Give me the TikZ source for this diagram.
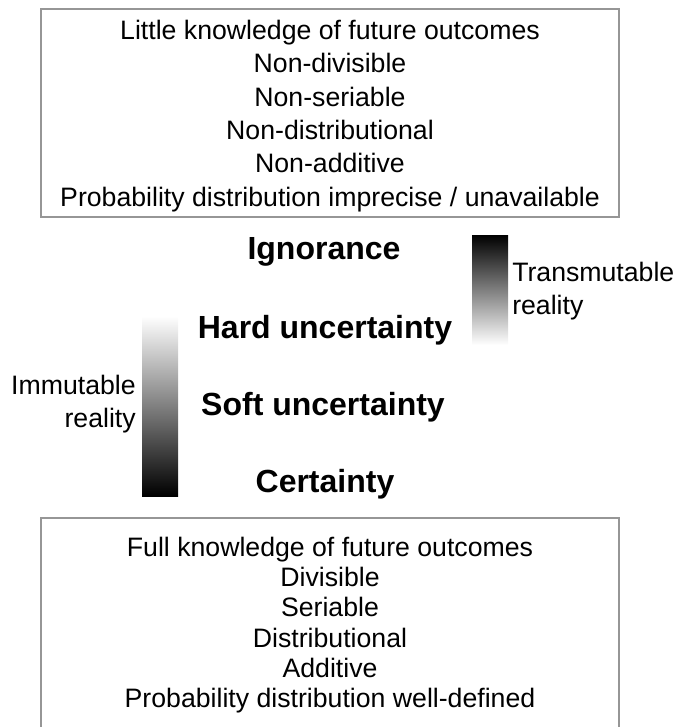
\documentclass[tikz,border=0pt]{standalone}
\usepackage{fontspec}
\setmainfont{Liberation Sans}
\definecolor{boxgray}{RGB}{150,150,150}
\begin{document}
\begin{tikzpicture}[x=0.75pt,y=-0.75pt,
  infobox/.style={draw=boxgray, line width=0.8pt, inner sep=0pt, minimum width=433.5pt},
  boxtext/.style={align=center, inner sep=0pt, font=\fontsize{20}{25}\selectfont},
  boxtextb/.style={align=center, inner sep=0pt, font=\fontsize{20}{22.7}\selectfont},
  level/.style={inner sep=0pt, font=\fontsize{24}{28}\selectfont\bfseries},
  side/.style={inner sep=0pt, font=\fontsize{20}{24.5}\selectfont},
  bar/.style={inner sep=0pt, minimum width=27pt}]
\useasboundingbox (0,0) rectangle (676,727);
% top box
\node[infobox, minimum height=156pt] (topbox) at (330,113) {};
\node[boxtext] (toptext) at (330,116) {Little knowledge of future outcomes\\Non-divisible\\Non-seriable\\Non-distributional\\Non-additive\\Probability distribution imprecise / unavailable};
% levels
\node[level] (ign) at (324,252) {Ignorance};
\node[level] (hard) at (325,330) {Hard uncertainty};
\node[level] (soft) at (323,407) {Soft uncertainty};
\node[level] (cert) at (325,484) {Certainty};
% bars
\node[bar, minimum height=135pt, top color=white, bottom color=black] (lbar) at (160,406) {};
\node[bar, minimum height=82.5pt, top color=black, bottom color=white] (rbar) at (490,290) {};
\node[side, anchor=east, align=right] (imm) at (136,404) {Immutable\\reality};
\node[side, anchor=west, align=left] (trans) at (512,291) {Transmutable\\reality};
% bottom box
\node[infobox, minimum height=183pt] (botbox) at (330,640) {};
\node[boxtextb] (bottext) at (330,625) {Full knowledge of future outcomes\\Divisible\\Seriable\\Distributional\\Additive\\Probability distribution well-defined};
\end{tikzpicture}
\end{document}
